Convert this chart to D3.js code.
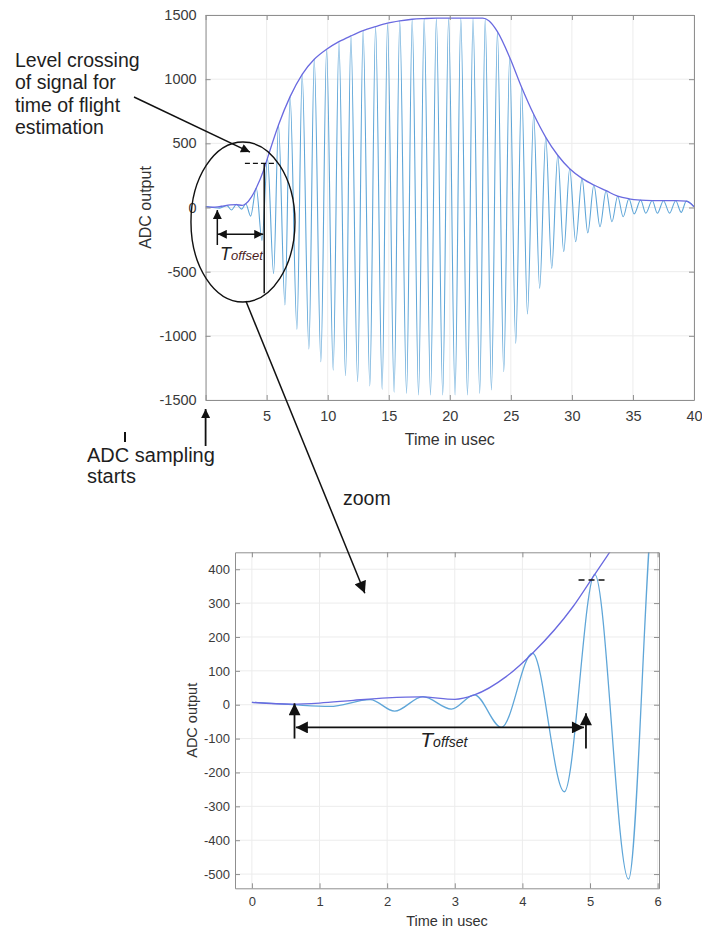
<!DOCTYPE html>
<html lang="en">
  <head>
    <meta charset="UTF-8" />
    <title>ADC output - time of flight</title>
    <script src="https://cdn.jsdelivr.net/npm/d3@7"></script>
    <style>
      body {
        margin: 0;
        background: #fff;
        font-family: "Liberation Sans", Arial, sans-serif;
      }
      svg {
        display: block;
      }
    </style>
  </head>
  <body>
    <div id="chart"></div>
    <script>
      const sigTime = [
        0, 0.6, 1.15, 1.75, 2.11, 2.53, 2.95, 3.29, 3.69, 4.15, 4.62, 5.07,
        5.57, 5.97, 6.5, 6.92, 7.48, 7.91, 8.46, 8.9, 9.44, 9.91, 10.45, 10.92,
        11.46, 11.9, 12.45, 12.9, 13.45, 13.92, 14.46, 14.9, 15.44, 15.9, 16.46,
        16.92, 17.44, 17.9, 18.42, 18.9, 19.42, 19.9, 20.43, 20.9, 21.45, 21.9,
        22.45, 22.9, 23.41, 23.9, 24.42, 24.9, 25.4, 25.88, 26.36, 26.87, 27.36,
        27.86, 28.35, 28.84, 29.33, 29.82, 30.31, 30.83, 31.3, 31.8, 32.3, 32.8,
        33.28, 33.75, 34.2, 34.67, 35.1, 35.63, 36.05, 36.58, 37.0, 37.5, 38.0,
        38.5, 38.95, 39.37, 40,
      ];
      const sigValue = [
        7, 0, -5, 15, -19, 24, -13, 29, -67, 152, -257, 385, -515, 643, -760,
        864, -949, 1038, -1103, 1155, -1202, 1233, -1267, 1292, -1311, 1337,
        -1358, 1378, -1391, 1409, -1417, 1436, -1440, 1454, -1448, 1467, -1461,
        1472, -1461, 1475, -1461, 1475, -1461, 1475, -1461, 1475, -1448, 1468,
        -1422, 1370, -1280, 1171, -1059, 937, -830, 726, -630, 547, -474, 407,
        -344, 302, -267, 227, -198, 175, -150, 131, -111, 88, -72, 68, -50, 58,
        -45, 54, -45, 53, -44, 53, -38, 50, 6,
      ];

      // envelope of the signal
      const envTime = [
        0, 0.6, 1.0, 1.5, 2.0, 2.5, 3.0, 3.29, 3.76, 4.15, 4.75, 5.07, 5.97,
        6.92, 7.91, 8.9, 9.91, 10.92, 11.9, 12.9, 13.92, 14.9, 15.9, 16.92,
        17.9, 18.9, 22.7, 23.2, 23.9, 24.9, 25.88, 26.87, 27.86, 28.84, 29.82,
        30.83, 31.8, 32.8, 33.75, 34.67, 35.63, 36.58, 37.5, 38.5, 39.37, 40,
      ];
      const envValue = [
        7, 2, 5, 13, 20, 23, 16, 29, 83, 152, 290, 385, 643, 864, 1038, 1155,
        1233, 1292, 1337, 1378, 1409, 1436, 1454, 1467, 1472, 1475, 1475, 1455,
        1370, 1171, 937, 726, 547, 407, 302, 227, 175, 131, 88, 68, 58, 54, 53,
        53, 50, 6,
      ];

      const topXTicks = [0, 5, 10, 15, 20, 25, 30, 35, 40];
      const topYTicks = [-1500, -1000, -500, 0, 500, 1000, 1500];
      const zoomXTicks = [0, 1, 2, 3, 4, 5, 6];
      const zoomYTicks = [-500, -400, -300, -200, -100, 0, 100, 200, 300, 400];

      const signal = sigTime.map((t, i) => ({ t, v: sigValue[i] }));
      const envelope = envTime.map((t, i) => ({ t, v: envValue[i] }));

      const width = 702;
      const height = 929;
      const sigColor = "#5fa6d8";
      const envColor = "#6a6ae0";
      const frameColor = "#8f8f8f";
      const font = '"Liberation Sans", Arial, sans-serif';

      const svg = d3
        .select("#chart")
        .append("svg")
        .attr("width", width)
        .attr("height", height);

      const defs = svg.append("defs");
      function marker(id, w, h) {
        defs
          .append("marker")
          .attr("id", id)
          .attr("viewBox", "0 0 10 10")
          .attr("refX", 10)
          .attr("refY", 5)
          .attr("markerUnits", "userSpaceOnUse")
          .attr("markerWidth", w)
          .attr("markerHeight", h)
          .attr("orient", "auto-start-reverse")
          .append("path")
          .attr("d", "M0,0L10,5L0,10z")
          .attr("fill", "#111");
      }
      marker("head", 11, 9);
      marker("headBig", 13, 12);

      function panel(o) {
        const g = svg.append("g");
        const [xl, xr] = o.x.range();
        const [yb, yt] = o.y.range();

        g.append("g")
          .attr("stroke", "#ececec")
          .attr("stroke-width", 1)
          .call((s) =>
            s
              .selectAll("line.gx")
              .data(o.xTicks)
              .join("line")
              .attr("class", "gx")
              .attr("x1", (d) => o.x(d))
              .attr("x2", (d) => o.x(d))
              .attr("y1", yt)
              .attr("y2", yb)
          )
          .call((s) =>
            s
              .selectAll("line.gy")
              .data(o.yTicks)
              .join("line")
              .attr("class", "gy")
              .attr("y1", (d) => o.y(d))
              .attr("y2", (d) => o.y(d))
              .attr("x1", xl)
              .attr("x2", xr)
          );

        defs
          .append("clipPath")
          .attr("id", o.id)
          .append("rect")
          .attr("x", xl)
          .attr("y", yt)
          .attr("width", xr - xl)
          .attr("height", yb - yt);

        const line = d3
          .line()
          .x((d) => o.x(d.t))
          .y((d) => o.y(d.v))
          .curve(d3.curveMonotoneX);

        const curves = g.append("g").attr("clip-path", `url(#${o.id})`);
        curves
          .append("path")
          .datum(signal)
          .attr("fill", "none")
          .attr("stroke", sigColor)
          .attr("stroke-width", o.sigWidth)
          .attr("d", line);
        curves
          .append("path")
          .datum(envelope)
          .attr("fill", "none")
          .attr("stroke", envColor)
          .attr("stroke-width", o.envWidth)
          .attr("d", line);

        const axis = (a, tx, ty) =>
          g
            .append("g")
            .attr("transform", `translate(${tx},${ty})`)
            .call(a.tickSizeOuter(0))
            .call((s) => s.selectAll(".domain").attr("stroke", frameColor))
            .call((s) => s.selectAll(".tick line").attr("stroke", frameColor))
            .call((s) =>
              s
                .selectAll(".tick text")
                .attr("fill", "#3a3a3a")
                .attr("font-size", o.tickFont)
                .attr("font-family", font)
            );

        axis(
          d3
            .axisBottom(o.x)
            .tickValues(o.xTicks)
            .tickSize(-5)
            .tickPadding(o.xPad)
            .tickFormat(o.xFormat),
          0,
          yb
        );
        axis(d3.axisTop(o.x).tickValues(o.xTicks).tickSize(-5).tickFormat(""), 0, yt);
        axis(
          d3
            .axisLeft(o.y)
            .tickValues(o.yTicks)
            .tickSize(-5)
            .tickPadding(o.yPad)
            .tickFormat((d) => String(d)),
          xl,
          0
        );
        axis(d3.axisRight(o.y).tickValues(o.yTicks).tickSize(-5).tickFormat(""), xr, 0);

        g.append("text")
          .attr("x", (xl + xr) / 2)
          .attr("y", o.xLabelY)
          .attr("text-anchor", "middle")
          .attr("font-size", o.labelFont)
          .attr("font-family", font)
          .attr("fill", "#333")
          .text("Time in usec");

        g.append("text")
          .attr("transform", `translate(${o.yLabelX},${(yt + yb) / 2}) rotate(-90)`)
          .attr("text-anchor", "middle")
          .attr("font-size", o.labelFont)
          .attr("font-family", font)
          .attr("fill", "#333")
          .text("ADC output");
      }

      // main plot
      const xTop = d3.scaleLinear().domain([0, 40]).range([205.6, 694]);
      const yTop = d3.scaleLinear().domain([-1500, 1500]).range([400, 15]);
      panel({
        id: "clipTop",
        x: xTop,
        y: yTop,
        xTicks: topXTicks,
        yTicks: topYTicks,
        xFormat: (d) => (d === 0 ? "" : String(d)),
        tickFont: 14.5,
        labelFont: 16,
        xPad: 11,
        yPad: 9,
        xLabelY: 445,
        yLabelX: 151,
        sigWidth: 1.1,
        envWidth: 1.3,
      });

      // zoomed plot
      const xZoom = d3.scaleLinear().domain([-0.25, 6.02]).range([235, 659]);
      const yZoom = d3.scaleLinear().domain([-542, 450]).range([888.3, 552.3]);
      panel({
        id: "clipZoom",
        x: xZoom,
        y: yZoom,
        xTicks: zoomXTicks,
        yTicks: zoomYTicks,
        xFormat: (d) => String(d),
        tickFont: 13,
        labelFont: 14.5,
        xPad: 8,
        yPad: 5,
        xLabelY: 926,
        yLabelX: 197,
        sigWidth: 1.3,
        envWidth: 1.3,
      });

      // annotations
      const ann = svg.append("g").attr("stroke", "#111").attr("fill", "none");

      function arrow(x1, y1, x2, y2, both, head, w) {
        const l = ann
          .append("line")
          .attr("x1", x1)
          .attr("y1", y1)
          .attr("x2", x2)
          .attr("y2", y2)
          .attr("stroke-width", w || 1.4)
          .attr("marker-end", `url(#${head || "head"})`);
        if (both) l.attr("marker-start", `url(#${head || "head"})`);
      }
      function seg(x1, y1, x2, y2, dash, w) {
        ann
          .append("line")
          .attr("x1", x1)
          .attr("y1", y1)
          .attr("x2", x2)
          .attr("y2", y2)
          .attr("stroke-width", w || 1.4)
          .attr("stroke-dasharray", dash || null);
      }
      function label(x, y, lines, size, lh) {
        const t = svg
          .append("text")
          .attr("font-family", font)
          .attr("font-size", size)
          .attr("fill", "#1e1e1e");
        lines.forEach((s, i) =>
          t
            .append("tspan")
            .attr("x", x)
            .attr("y", y + i * lh)
            .text(s)
        );
      }
      function toffset(x, y, big, small, subColor) {
        const t = svg
          .append("text")
          .attr("x", x)
          .attr("y", y)
          .attr("font-family", font)
          .attr("font-style", "italic");
        t.append("tspan").attr("font-size", big).attr("fill", "#222").text("T");
        t.append("tspan")
          .attr("font-size", small)
          .attr("fill", subColor)
          .text("offset");
      }

      // top plot: level crossing and T offset
      label(15, 67, ["Level crossing", "of signal for", "time of flight", "estimation"], 19.5, 22.3);
      arrow(134, 97, xTop(3.63), yTop(432), false, "head", 1.5);

      ann
        .append("ellipse")
        .attr("cx", xTop(3.06))
        .attr("cy", yTop(-113))
        .attr("rx", 52)
        .attr("ry", 80)
        .attr("stroke-width", 1.4);

      seg(xTop(3.22), yTop(344), xTop(5.84), yTop(344), "5,3", 1.4);
      seg(xTop(4.8), yTop(344), xTop(4.8), yTop(-669), null, 1.5);
      arrow(xTop(0.96), yTop(-292), xTop(0.96), yTop(-20), false, "head", 1.5);
      arrow(xTop(1.0), yTop(-209), xTop(4.72), yTop(-209), true, "head", 1.5);
      toffset(xTop(1.18), yTop(-409), 18, 13, "#4a1c1c");

      // ADC sampling starts
      label(87, 462, ["ADC sampling", "starts"], 20, 21);
      seg(125, 432, 125, 442, null, 2);
      arrow(xTop(0), 446, xTop(0), 409, false, "head", 1.8);

      // zoom link
      arrow(xTop(3.3), yTop(-729), xZoom(1.67), yZoom(329), false, "headBig", 1.5);
      label(343, 505, ["zoom"], 19.5, 0);

      // zoomed plot: T offset
      arrow(xZoom(0.63), yZoom(-100), xZoom(0.63), yZoom(4), false, "headBig", 1.8);
      arrow(xZoom(0.65), yZoom(-67), xZoom(4.91), yZoom(-67), true, "headBig", 1.8);
      arrow(xZoom(4.94), yZoom(-129), xZoom(4.94), yZoom(-25), false, "headBig", 1.8);
      seg(xZoom(4.83), yZoom(368), xZoom(5.27), yZoom(368), "6,4", 1.5);
      toffset(xZoom(2.49), yZoom(-124), 21, 14, "#222");
    </script>
  </body>
</html>
